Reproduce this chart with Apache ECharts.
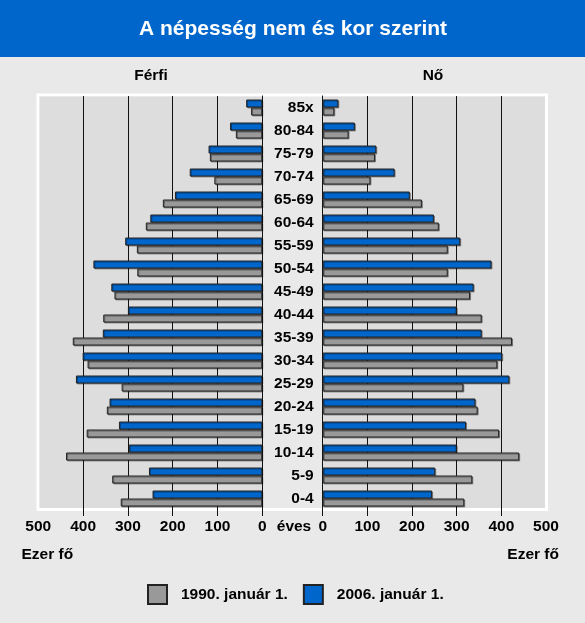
<!DOCTYPE html>
<html><head><meta charset="utf-8">
<script src="https://cdn.jsdelivr.net/npm/echarts@6/dist/echarts.min.js"></script>
<style>html,body{margin:0;padding:0;background:#E9E9E9}#c{width:585px;height:623px}</style>
</head><body><div id="c"></div>
<script>
// Age groups, bottom to top
const ageGroups = ['0-4','5-9','10-14','15-19','20-24','25-29','30-34','35-39','40-44','45-49','50-54','55-59','60-64','65-69','70-74','75-79','80-84','85x'];
// Férfi (thousand persons)
const male1990 = [316,335,438,392,347,314,390,423,355,330,279,280,260,222,107,117,59,25];
const male2006 = [245,253,298,320,341,416,401,356,300,337,377,306,250,195,162,120,72,36];
// Nő (thousand persons)
const female1990 = [317,335,440,395,347,315,391,424,356,330,280,280,260,222,107,117,58,26];
const female2006 = [245,252,300,321,342,418,402,356,300,338,378,308,249,195,161,120,72,35];
const axisTicks = [0,100,200,300,400,500];
const name1990 = '1990. január 1.';
const name2006 = '2006. január 1.';

const FONT = '"Liberation Sans", Arial, sans-serif';
const FS = 15.5;
const BLUE = '#0066CC', GRAY = '#999999', EDGE = '#222222';
const chart = echarts.init(document.getElementById('c'), null, {renderer: 'canvas'});

function valueAxis(grid, inverse) {
  return {
    type: 'value', gridIndex: grid, min: 0, max: 500, interval: 100, inverse: inverse,
    position: 'bottom',
    axisLine: {show: false},
    axisTick: {show: true, length: 6, lineStyle: {color: '#111', width: 1}, customValues: axisTicks.slice(0, 5)},
    splitLine: {show: true, lineStyle: {color: '#111', width: 1}},
    axisLabel: {fontSize: FS, fontWeight: 'bold', color: '#000', fontFamily: FONT, margin: 9, customValues: axisTicks}
  };
}
function barSeries(name, data, color, xi) {
  return {
    name: name, type: 'bar', xAxisIndex: xi, yAxisIndex: xi, data: data,
    barWidth: 8, barGap: '0%',
    itemStyle: {color: color, borderColor: EDGE, borderWidth: 1,
      shadowColor: 'rgba(0,0,0,0.35)', shadowOffsetX: 1, shadowOffsetY: 1, shadowBlur: 0}
  };
}

const option = {
  animation: false,
  backgroundColor: '#E9E9E9',
  textStyle: {fontFamily: FONT},
  grid: [
    {left: 38.3, top: 96, width: 224, height: 414, show: false},
    {left: 322.7, top: 96, width: 223.3, height: 414, show: false}
  ],
  xAxis: [valueAxis(0, true), valueAxis(1, false)],
  yAxis: [
    {type: 'category', gridIndex: 0, data: ageGroups, position: 'right',
     axisLine: {show: true, lineStyle: {color: '#111', width: 1}}, axisTick: {show: false}, axisLabel: {show: false}},
    {type: 'category', gridIndex: 1, data: ageGroups, position: 'left',
     axisLine: {show: true, lineStyle: {color: '#111', width: 1}}, axisTick: {show: false},
     axisLabel: {show: true, fontSize: FS, fontWeight: 'bold', color: '#000', fontFamily: FONT, margin: 9, padding: [0,0,3,0]}}
  ],
  legend: {
    data: [name1990, name2006], left: 147, top: 584, padding: 0, itemWidth: 19, itemHeight: 19, itemGap: 15,
    icon: 'rect',
    textStyle: {fontSize: FS, fontWeight: 'bold', color: '#000', fontFamily: FONT, padding: [0,0,0,9]}
  },
  series: [
    barSeries(name2006, male2006, BLUE, 0),
    barSeries(name1990, male1990, GRAY, 0),
    barSeries(name2006, female2006, BLUE, 1),
    barSeries(name1990, female1990, GRAY, 1)
  ],
  graphic: [
    {type: 'rect', z: -10, shape: {x: 0, y: 0, width: 585, height: 57}, style: {fill: BLUE}},
    {type: 'text', z: 10, x: 293, y: 29, style: {text: 'A népesség nem és kor szerint', fill: '#fff', font: 'bold 21px ' + FONT, textAlign: 'center', textVerticalAlign: 'middle'}},
    {type: 'rect', z: -10, shape: {x: 38, y: 95, width: 508.5, height: 414.5}, style: {fill: null, stroke: '#fff', lineWidth: 3}},
    {type: 'rect', z: -10, shape: {x: 39.5, y: 96.5, width: 222.8, height: 411.5}, style: {fill: '#DDDDDD'}},
    {type: 'rect', z: -10, shape: {x: 322.7, y: 96.5, width: 222.3, height: 411.5}, style: {fill: '#DDDDDD'}},
    {type: 'text', x: 151, y: 76, style: {text: 'Férfi', fill: '#000', font: 'bold ' + FS + 'px ' + FONT, textAlign: 'center', textVerticalAlign: 'middle'}},
    {type: 'text', x: 433, y: 76, style: {text: 'Nő', fill: '#000', font: 'bold ' + FS + 'px ' + FONT, textAlign: 'center', textVerticalAlign: 'middle'}},
    {type: 'text', x: 294, y: 527, style: {text: 'éves', fill: '#000', font: 'bold ' + FS + 'px ' + FONT, textAlign: 'center', textVerticalAlign: 'middle'}},
    {type: 'text', x: 21.5, y: 555, style: {text: 'Ezer fő', fill: '#000', font: 'bold ' + FS + 'px ' + FONT, textAlign: 'left', textVerticalAlign: 'middle'}},
    {type: 'text', x: 559, y: 555, style: {text: 'Ezer fő', fill: '#000', font: 'bold ' + FS + 'px ' + FONT, textAlign: 'right', textVerticalAlign: 'middle'}}
  ]
};
chart.setOption(option);
</script>
</body></html>
